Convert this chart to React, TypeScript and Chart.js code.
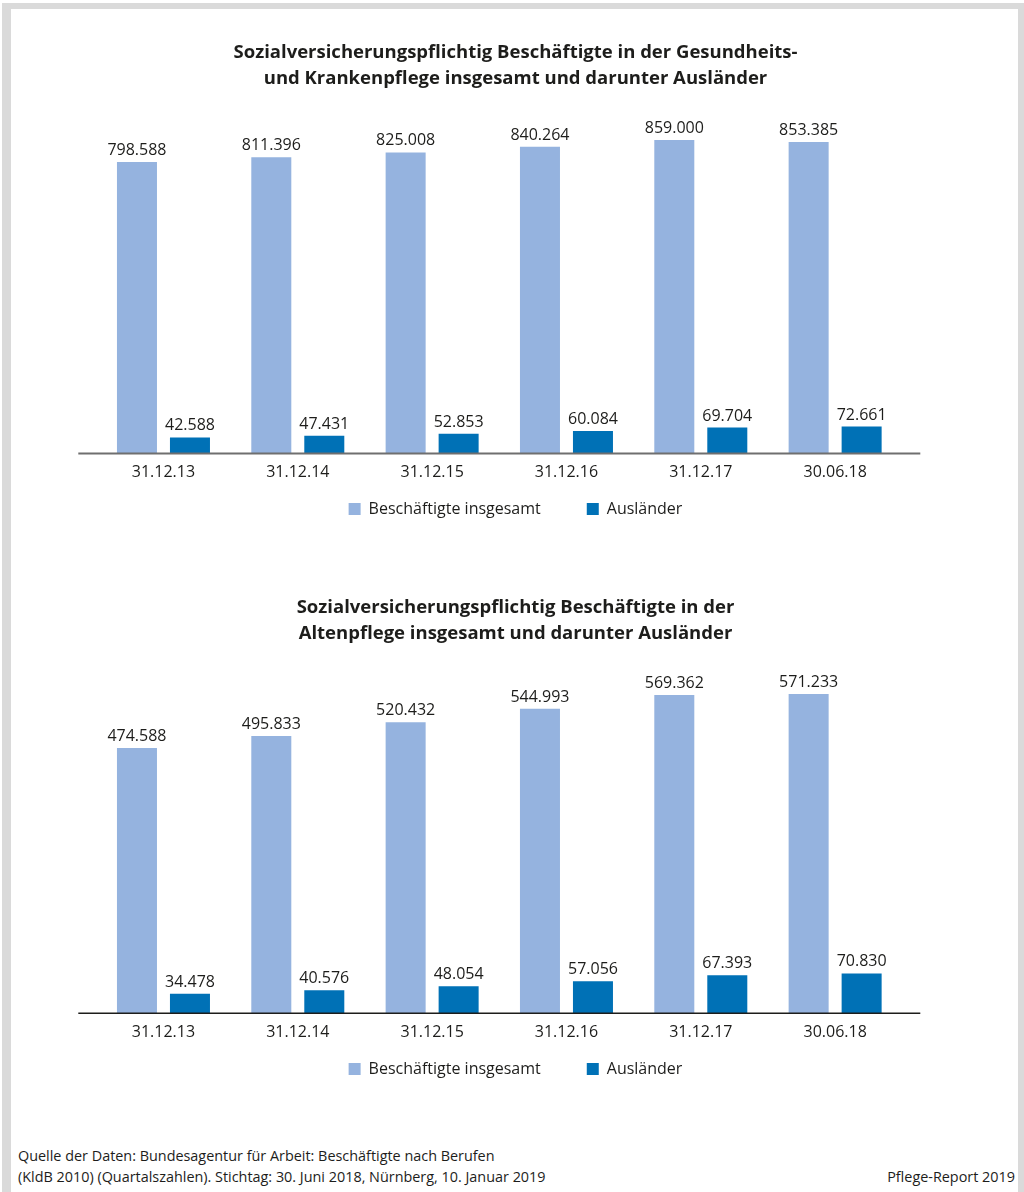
import React, { useEffect, useRef } from "react";
import { Chart, registerables } from "chart.js";

Chart.register(...registerables);

// ---------- data ----------
const categories = ["31.12.13", "31.12.14", "31.12.15", "31.12.16", "31.12.17", "30.06.18"];
const seriesNames = ["Beschäftigte insgesamt", "Ausländer"];

const krankenTotal = [798588, 811396, 825008, 840264, 859000, 853385];
const krankenForeign = [42588, 47431, 52853, 60084, 69704, 72661];

const altenTotal = [474588, 495833, 520432, 544993, 569362, 571233];
const altenForeign = [34478, 40576, 48054, 57056, 67393, 70830];

const title1 = [
  "Sozialversicherungspflichtig Beschäftigte in der Gesundheits-",
  "und Krankenpflege insgesamt und darunter Ausländer",
];
const title2 = [
  "Sozialversicherungspflichtig Beschäftigte in der",
  "Altenpflege insgesamt und darunter Ausländer",
];
const sourceLines = [
  "Quelle der Daten: Bundesagentur für Arbeit: Beschäftigte nach Berufen",
  "(KldB 2010) (Quartalszahlen). Stichtag: 30. Juni 2018, Nürnberg, 10. Januar 2019",
];
const brandText = "Pflege-Report 2019";

// ---------- styles ----------
const LIGHT = "#95b3df";
const DARK = "#0071b6";
const TEXT = "#1d1d1b";
const FONT = "'Open Sans', 'Noto Sans', sans-serif";

const fmt = (n: number) => String(n).replace(/\B(?=(\d{3})+(?!\d))/g, ".");

const valueLabels = {
  id: "valueLabels",
  afterDatasetsDraw(chart: any) {
    const ctx = chart.ctx;
    ctx.save();
    ctx.font = `16px ${FONT}`;
    ctx.fillStyle = TEXT;
    ctx.textAlign = "center";
    ctx.textBaseline = "alphabetic";
    chart.data.datasets.forEach((ds: any, di: number) => {
      const meta = chart.getDatasetMeta(di);
      meta.data.forEach((el: any, i: number) => {
        ctx.fillText(fmt(ds.data[i]), el.x, el.y - 7);
      });
    });
    ctx.restore();
  },
};

const baseLine = {
  id: "baseLine",
  afterDatasetsDraw(chart: any, _args: any, opts: any) {
    const { ctx, chartArea } = chart;
    ctx.save();
    ctx.strokeStyle = opts.color;
    ctx.lineWidth = opts.width;
    ctx.beginPath();
    const y = chartArea.bottom + opts.width / 2 - 0.5;
    ctx.moveTo(chartArea.left - 18, y);
    ctx.lineTo(chartArea.right + 18, y);
    ctx.stroke();
    ctx.restore();
  },
};

// pull the legend up close to the axis (its label padding also sets item spacing)
const legendShift = {
  id: "legendShift",
  afterLayout(chart: any) {
    const l = chart.legend;
    if (!l) return;
    const h = l.height;
    l.top = chart.chartArea.bottom + 2;
    l.bottom = l.top + h;
  },
};

type PanelProps = {
  top: number;
  titleLines: string[];
  total: number[];
  foreign: number[];
  yMax: number;
  titlePadTop: number;
  axisColor: string;
  axisWidth: number;
};

function Panel(p: PanelProps) {
  const ref = useRef<HTMLCanvasElement | null>(null);
  useEffect(() => {
    if (!ref.current) return;
    const chart = new Chart(ref.current, {
      type: "bar",
      data: {
        labels: categories,
        datasets: [
          {
            label: seriesNames[0],
            data: p.total,
            backgroundColor: LIGHT,
            borderWidth: 0,
            categoryPercentage: 0.789,
            barPercentage: 0.755,
          },
          {
            label: seriesNames[1],
            data: p.foreign,
            backgroundColor: DARK,
            borderWidth: 0,
            categoryPercentage: 0.789,
            barPercentage: 0.755,
          },
        ],
      },
      plugins: [valueLabels, baseLine, legendShift],
      options: {
        responsive: false,
        animation: false,
        events: [],
        layout: { padding: { left: 7, right: 0, top: 0, bottom: 1 } },
        scales: {
          x: {
            grid: { display: false, drawTicks: false },
            border: { display: false },
            ticks: {
              padding: 10,
              color: TEXT,
              font: { family: FONT, size: 16 },
              maxRotation: 0,
            },
            afterFit: (s: any) => {
              s.height = 34;
            },
          },
          y: {
            min: 0,
            max: p.yMax,
            grid: { display: false, drawTicks: false },
            border: { display: false },
            ticks: { display: false },
            afterFit: (s: any) => {
              s.width = 89.3;
            },
          },
          yR: {
            type: "linear",
            position: "right",
            grid: { display: false, drawTicks: false },
            border: { display: false },
            ticks: { display: false },
            afterFit: (s: any) => {
              s.width = 121.7;
            },
          },
        },
        plugins: {
          tooltip: { enabled: false },
          title: {
            display: true,
            text: p.titleLines,
            fullSize: true,
            color: TEXT,
            font: { family: FONT, size: 18.5, weight: "bold", lineHeight: 26 / 18.5 },
            padding: { top: p.titlePadTop, bottom: 0 },
          },
          legend: {
            display: true,
            position: "bottom",
            labels: {
              boxWidth: 12,
              boxHeight: 12,
              padding: 46,
              color: TEXT,
              font: { family: FONT, size: 16 },
            },
          },
          baseLine: { color: p.axisColor, width: p.axisWidth },
        } as any,
      },
    } as any);
    return () => chart.destroy();
  }, []);
  return (
    <canvas
      ref={ref}
      width={1024}
      height={560}
      style={{ position: "absolute", left: 0, top: p.top, width: 1024, height: 560, display: "block" }}
    />
  );
}

export default function App() {
  return (
    <div
      style={{
        position: "fixed",
        left: 0,
        top: 0,
        width: 1024,
        height: 1192,
        background: "#ffffff",
        overflow: "hidden",
      }}
    >
      <div
        style={{
          position: "absolute",
          left: 2,
          top: 3,
          width: 1022,
          height: 1200,
          boxSizing: "border-box",
          borderTop: "6px solid #dadada",
          borderLeft: "9px solid #dadada",
          borderRight: "6px solid #dadada",
          background: "#fff",
        }}
      />
      <Panel
        top={0}
        titleLines={title1}
        total={krankenTotal}
        foreign={krankenForeign}
        yMax={990700}
        titlePadTop={40}
        axisColor="#6f6f6f"
        axisWidth={2}
      />
      <Panel
        top={560}
        titleLines={title2}
        total={altenTotal}
        foreign={altenForeign}
        yMax={655400}
        titlePadTop={35}
        axisColor="#1d1d1b"
        axisWidth={1.5}
      />
      <div
        style={{
          position: "absolute",
          left: 18,
          top: 1145,
          fontFamily: FONT,
          fontSize: 14.4,
          lineHeight: "21px",
          color: TEXT,
          whiteSpace: "nowrap",
        }}
      >
        <div>{sourceLines[0]}</div>
        <div>{sourceLines[1]}</div>
      </div>
      <div
        style={{
          position: "absolute",
          right: 9,
          top: 1166,
          fontFamily: FONT,
          fontSize: 14.4,
          lineHeight: "21px",
          color: TEXT,
          whiteSpace: "nowrap",
        }}
      >
        {brandText}
      </div>
    </div>
  );
}
